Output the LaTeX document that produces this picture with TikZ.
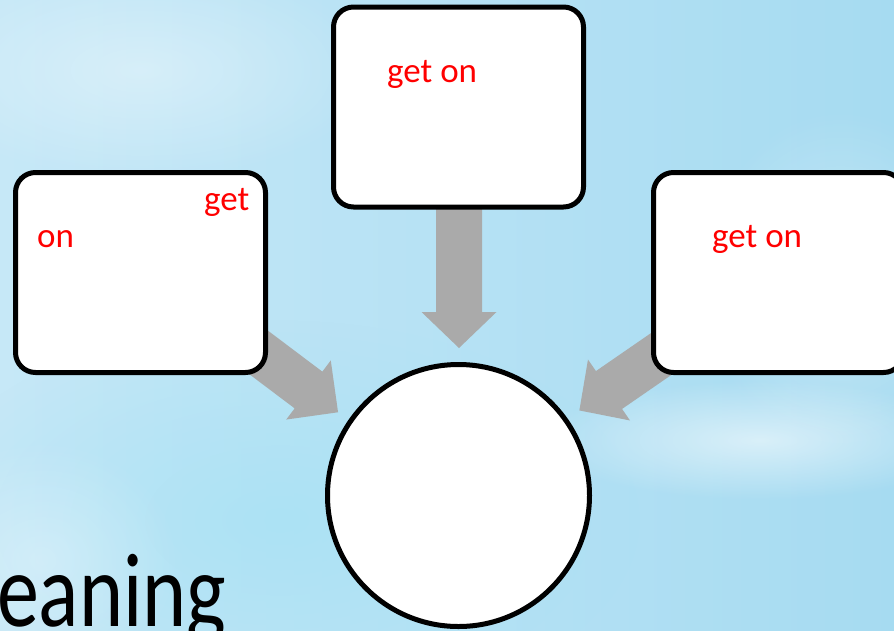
\documentclass[tikz,border=0pt]{standalone}
\usepackage{fontspec}
\setmainfont{Carlito}
\usetikzlibrary{shapes.geometric,fadings}
\definecolor{bgA}{HTML}{C6E8F7}
\definecolor{bgB}{HTML}{A6DBF1}
\definecolor{bgC}{HTML}{A8E2F4}
\definecolor{arrowgray}{HTML}{AAAAAA}
\definecolor{redtxt}{HTML}{FF0000}
\tikzfading[name=softglow, inner color=transparent!0, outer color=transparent!100]
\tikzset{
  card/.style={draw=black, line width=5pt, fill=white, rounded corners=20pt,
    minimum width=250pt, minimum height=200pt, inner sep=0pt},
  hub/.style={draw=black, line width=5pt, fill=white, circle, minimum size=262pt, inner sep=0pt},
  blockarrow/.style={fill=arrowgray, draw=none},
  redlabel/.style={text=redtxt, font=\fontsize{35}{40}\selectfont, inner sep=0pt, anchor=base west},
  bigword/.style={text=black, font=\fontsize{105}{110}\selectfont, inner sep=0pt, anchor=base west},
  glow/.style={fill=white, path fading=softglow}
}
\begin{document}
\begin{tikzpicture}[x=1pt, y=-1pt]
\useasboundingbox (0,0) rectangle (894,630);
\clip (0,0) rectangle (894,630);
% background
\shade[left color=bgA, right color=bgB] (0,0) rectangle (894,630);
\fill[bgC, path fading=softglow, opacity=0.8] (280,520) ellipse (360pt and 200pt);
\fill[glow, opacity=0.55] (760,440) ellipse (220pt and 60pt);
\fill[glow, opacity=0.35] (840,280) ellipse (140pt and 170pt);
\fill[glow, opacity=0.35] (140,70) ellipse (240pt and 110pt);
\fill[glow, opacity=0.3] (40,560) ellipse (140pt and 120pt);
% big word
\node[bigword, xscale=0.8, transform shape] (word) at (-3,626) {eaning};
% arrows
\begin{scope}[shift={(459,312)}, rotate=-90]
  \fill[blockarrow] (-112,-23) -- (0,-23) -- (0,-37.5) -- (36,0) -- (0,37.5) -- (0,23) -- (-112,23) -- cycle;
\end{scope}
\begin{scope}[shift={(308.5,390)}, rotate=-37]
  \fill[blockarrow] (-90,-23) -- (0,-23) -- (0,-37) -- (37,0) -- (0,37) -- (0,23) -- (-90,23) -- cycle;
\end{scope}
\begin{scope}[shift={(609,390)}, rotate=-145.4]
  \fill[blockarrow] (-90,-23) -- (0,-23) -- (0,-37) -- (36,0) -- (0,37) -- (0,23) -- (-90,23) -- cycle;
\end{scope}
% boxes
\node[card] (left) at (140.5,272.5) {};
\node[card] (top) at (458.5,107) {};
\node[card] (right) at (778.5,272.5) {};
\node[hub] (hub) at (458.5,495.5) {};
% labels
\node[redlabel] (l1) at (204,210) {get};
\node[redlabel] (l2) at (37,247) {on};
\node[redlabel] (t1) at (387,82) {get on};
\node[redlabel] (r1) at (712,247) {get on};
\end{tikzpicture}
\end{document}
